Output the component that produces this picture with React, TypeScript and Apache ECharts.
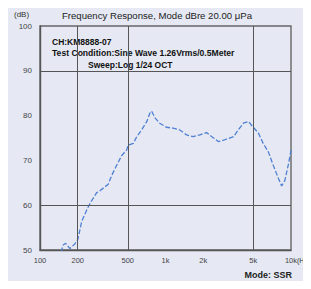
import React, { useEffect, useRef } from "react";
import * as echarts from "echarts";

const freqHz = [147, 153, 160, 173, 190, 200, 208, 215, 228, 240, 258, 283, 300, 350, 372, 408, 448, 490, 505, 554, 590, 645, 710, 752, 775, 825, 900, 1016, 1150, 1300, 1470, 1660, 1880, 2125, 2340, 2640, 2900, 3170, 3490, 3800, 4170, 4580, 5000, 5500, 6000, 6600, 7200, 7960, 8420, 8930, 9550, 10000];
const levelDb = [49.5, 51.1, 51.5, 50.3, 51.4, 52.3, 54.5, 56.4, 58, 59.4, 61, 62.8, 63.2, 64.7, 66.6, 68.9, 71.1, 72.3, 73.4, 73.8, 75.3, 76.8, 78.7, 80.6, 81, 79.5, 78.3, 77.4, 77.2, 76.8, 75.7, 75.3, 75.7, 76.2, 75.3, 74.2, 74.5, 74.9, 75.3, 76.8, 78.3, 78.7, 77.4, 76.1, 73.8, 71.9, 69, 65.9, 64.3, 65.5, 69.2, 72.3];

const xTickHz = [100, 200, 500, 1000, 2000, 5000, 10000];
const xTickLabels = ["100", "200", "500", "1k", "2k", "5k", "10k"];
const xGridHz = [200, 500, 5000];
const yGridDb = [60, 90];
const yTicks = [50, 60, 70, 80, 90, 100];

const titleText = "Frequency Response, Mode dBre 20.00 μPa";
const infoLines = ["CH:KM8888-07", "Test Condition:Sine Wave 1.26Vrms/0.5Meter", "Sweep:Log 1/24 OCT"];

export default function App() {
  const ref = useRef<HTMLDivElement>(null);
  useEffect(() => {
    if (!ref.current) return;
    const chart = echarts.init(ref.current, null, { renderer: "svg" });
    const font = "'Liberation Sans', Arial, sans-serif";
    const labelMap: Record<string, string> = {};
    xTickHz.forEach((f, i) => {
      labelMap[Math.log10(f).toFixed(4)] = xTickLabels[i];
    });
    chart.setOption({
      animation: false,
      backgroundColor: "#e6e9f4",
      grid: { left: 40, right: 20, top: 26, bottom: 39, show: true, borderColor: "#666", borderWidth: 1.4 },
      xAxis: {
        type: "value",
        min: 2,
        max: 4,
        axisLine: { show: true, lineStyle: { color: "#555", width: 1.4 } },
        axisTick: { show: false },
        splitLine: { show: false },
        axisLabel: {
          customValues: xTickHz.map((f) => Math.log10(f)),
          formatter: (v: number) => labelMap[v.toFixed(4)] ?? "",
          color: "#444",
          fontSize: 7.5,
          fontFamily: font,
          margin: 6,
          showMaxLabel: true,
          showMinLabel: true,
        },
      },
      yAxis: {
        type: "value",
        min: 50,
        max: 100,
        interval: 10,
        axisLine: { show: true, lineStyle: { color: "#555", width: 1.4 } },
        axisTick: { show: false },
        splitLine: { show: false },
        axisLabel: { color: "#444", fontSize: 8, fontFamily: font, margin: 8, customValues: yTicks },
      },
      graphic: [
        { type: "text", left: 14, top: 10, style: { text: "(dB)", fontSize: 8, fontFamily: font, fill: "#333" } },
        { type: "text", x: 157, y: 15, style: { text: titleText, fontSize: 9.6, fontFamily: font, fill: "#222", align: "center", verticalAlign: "middle" } },
        { type: "text", x: 52, y: 42, style: { text: infoLines[0], fontSize: 8.5, fontWeight: "bold", fontFamily: font, fill: "#111", verticalAlign: "middle" } },
        { type: "text", x: 52, y: 53, style: { text: infoLines[1], fontSize: 8.6, fontWeight: "bold", fontFamily: font, fill: "#111", verticalAlign: "middle" } },
        { type: "text", x: 88, y: 65, style: { text: infoLines[2], fontSize: 8.5, fontWeight: "bold", fontFamily: font, fill: "#111", verticalAlign: "middle" } },
        { type: "text", x: 297, y: 260, style: { text: "(Hz)", fontSize: 7, fontFamily: font, fill: "#333", verticalAlign: "middle" } },
        { type: "text", x: 292, y: 275, style: { text: "Mode: SSR", fontSize: 9, fontWeight: "bold", fontFamily: font, fill: "#222", align: "right", verticalAlign: "middle" } },
      ],
      series: [
        {
          type: "line",
          data: freqHz.map((f, i) => [Math.log10(f), levelDb[i]]),
          showSymbol: false,
          smooth: false,
          lineStyle: { color: "#4f80d2", width: 1.3, type: [5, 2] },
          markLine: {
            silent: true,
            symbol: "none",
            label: { show: false },
            lineStyle: { color: "#555", width: 1, type: "solid" },
            data: [
              ...xGridHz.map((f) => ({ xAxis: Math.log10(f) })),
              ...yGridDb.map((d) => ({ yAxis: d })),
            ],
          },
        },
      ],
    });
    return () => chart.dispose();
  }, []);
  return <div ref={ref} style={{ width: 311, height: 289, margin: -8 }} />;
}
